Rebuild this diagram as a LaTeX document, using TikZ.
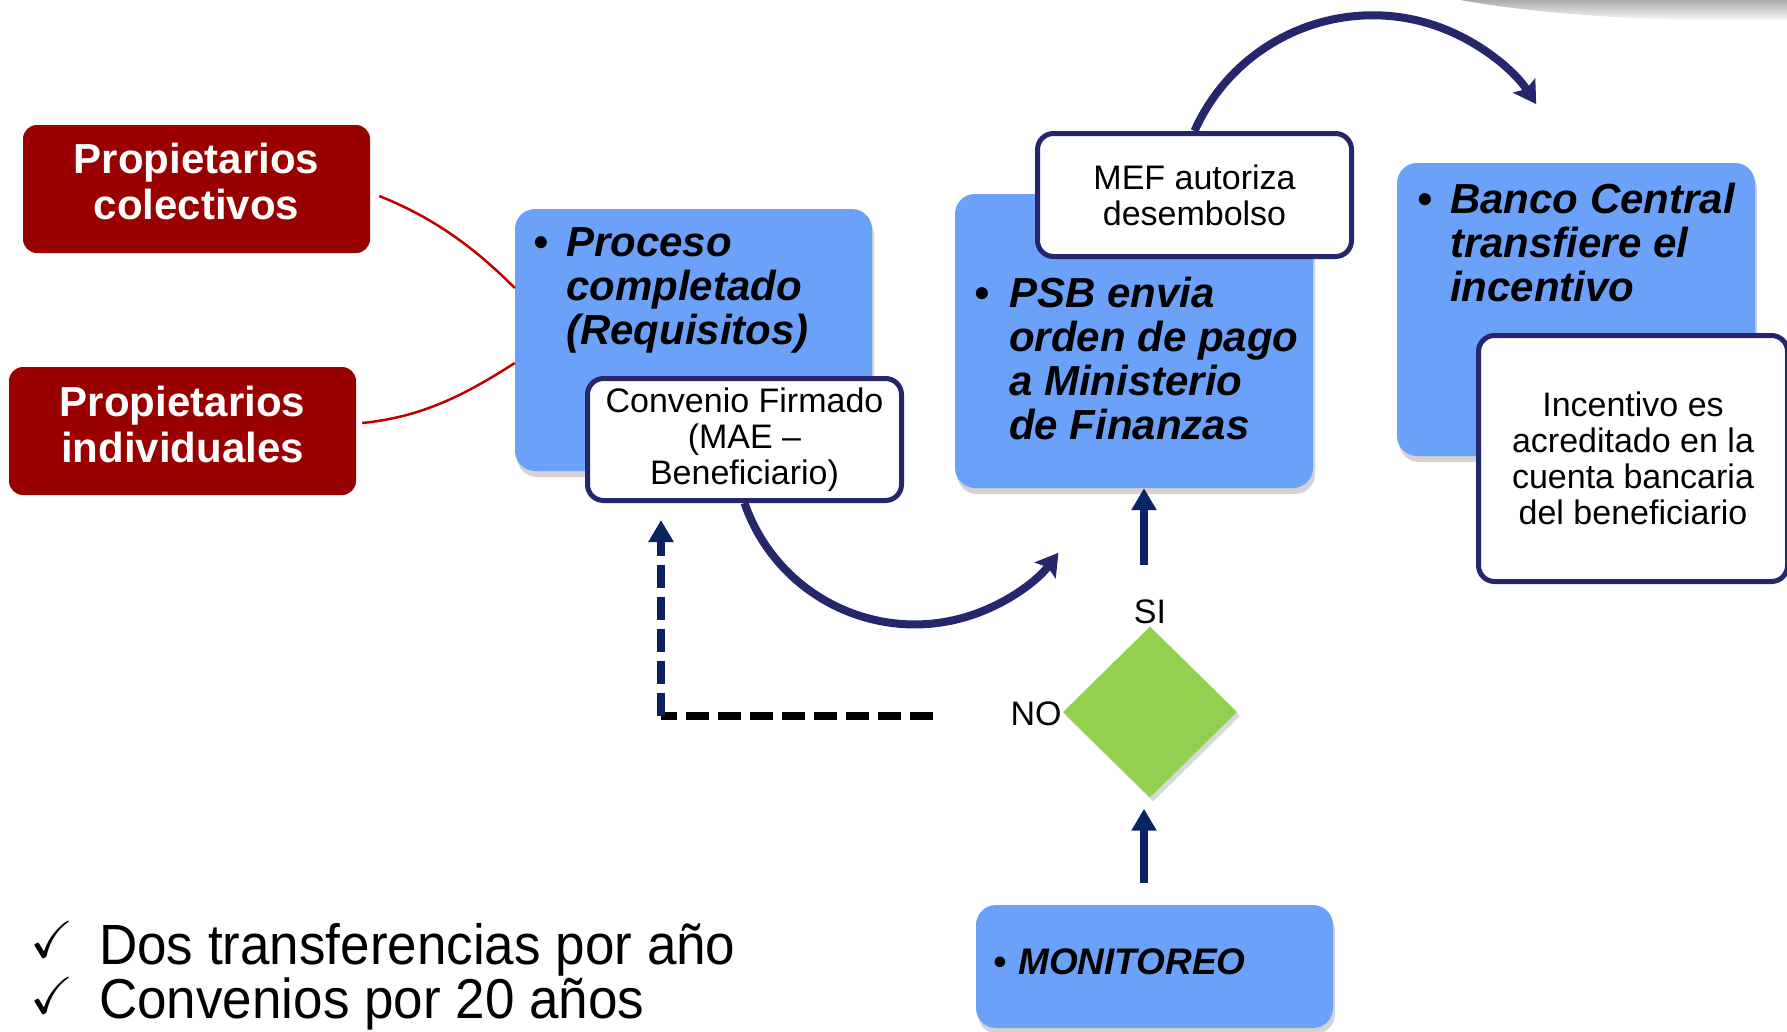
\documentclass[tikz,border=0pt]{standalone}
\usepackage{amssymb}
\usepackage{fontspec}
\setmainfont{Liberation Sans}
\usetikzlibrary{positioning, arrows.meta, shapes.geometric, shadows}

\definecolor{rojo}{HTML}{990000}
\definecolor{linearoja}{HTML}{C00000}
\definecolor{azulcaja}{HTML}{6CA1FA}
\definecolor{marino}{HTML}{26266C}
\definecolor{flecha}{HTML}{0B2362}
\definecolor{verde}{HTML}{92D050}

\newcommand{\vineta}[2]{\begin{tabular}[t]{@{}l@{}l@{}}\makebox[#1][l]{\textbullet} & #2\end{tabular}}

\tikzset{
  rojobox/.style={fill=rojo, rounded corners=14pt, minimum width=347pt, minimum height=128pt, inner sep=0pt},
  rojotxt/.style={text=white, font=\fontsize{42}{46}\selectfont\bfseries, align=center, inner sep=0pt},
  azulbox/.style={fill=azulcaja, rounded corners=20pt, inner sep=0pt,
    drop shadow={shadow xshift=2pt, shadow yshift=-6pt, opacity=.35}},
  azultxt/.style={font=\fontsize{42}{44}\selectfont\bfseries\itshape, inner sep=0pt, anchor=base west},
  blancobox/.style={fill=white, draw=marino, line width=5pt, rounded corners=16pt, inner sep=0pt,
    align=center, font=\fontsize{34}{36}\selectfont},
  arco/.style={draw=marino, line width=8pt, -{Stealth[length=22pt, width=26pt, inset=4pt]}},
  subir/.style={draw=flecha, line width=8pt, -{Triangle[length=22pt, width=24pt]}},
  rayas/.style={line width=8pt, dash pattern=on 23pt off 9pt},
  etiqueta/.style={font=\fontsize{34}{36}\selectfont, inner sep=0pt},
  nota/.style={anchor=base west, inner sep=0pt, font=\fontsize{53}{55}\selectfont},
  marca/.style={anchor=base west, inner sep=0pt, font=\fontsize{52}{52}\selectfont},
}

\begin{document}
\begin{tikzpicture}[x=1pt, y=-1pt]
    \useasboundingbox (0,0) rectangle (1787,1031);

    % sombra gris arriba a la derecha
    \shade[top color=gray!65, bottom color=white] (1460,0) .. controls (1560,18) and (1690,22) .. (1787,20) -- (1787,0) -- cycle;

    % propietarios
    \node[rojobox] (pc) at (196.5,189) {};
    \node[rojotxt] (pctxt) at (196.5,181) {Propietarios\\colectivos};
    \node[rojobox] (pi) at (182.5,431) {};
    \node[rojotxt] (pitxt) at (182.5,424) {Propietarios\\individuales};

    % cajas azules
    \node[azulbox, minimum width=357pt, minimum height=262pt] (proc) at (693.5,340) {};
    \node[azultxt] (proctxt) at (533,256) {\vineta{33pt}{Proceso\\ & completado\\ & (Requisitos)}};
    \node[azulbox, minimum width=358pt, minimum height=294pt] (psb) at (1134,341) {};
    \node[azultxt] (psbtxt) at (974,307) {\vineta{35pt}{PSB envia\\ & orden de pago\\ & a Ministerio\\ & de Finanzas}};
    \node[azulbox, minimum width=358pt, minimum height=293pt] (banco) at (1576,309.5) {};
    \node[azultxt] (bancotxt) at (1417,213) {\vineta{33pt}{Banco Central\\ & transfiere el\\ & incentivo}};
    \node[azulbox, minimum width=357pt, minimum height=123pt] (moni) at (1154.5,966.5) {};
    \node[azultxt, font=\fontsize{37}{40}\selectfont\bfseries\itshape] (monitxt) at (993,974) {\vineta{25pt}{MONITOREO}};

    % cajas blancas
    \node[blancobox, minimum width=314pt, minimum height=122pt] (conv) at (744.5,439.5) {Convenio Firmado\\(MAE --\\Beneficiario)};
    \node[blancobox, minimum width=314pt, minimum height=123pt] (mef) at (1194.5,195) {MEF autoriza\\desembolso};
    \node[blancobox, minimum width=309pt, minimum height=246pt] (incent) at (1633,458.5) {Incentivo es\\acreditado en la\\cuenta bancaria\\del beneficiario};

    % decision
    \node[diamond, aspect=1, fill=verde, inner sep=0pt, minimum width=174pt, minimum height=171pt,
      drop shadow={shadow xshift=3pt, shadow yshift=-4pt, opacity=.3}] (dec) at (1150,712) {};
    \node[etiqueta] (si) at (1150,612) {SI};
    \node[etiqueta] (no) at (1036,714) {NO};

    % lineas rojas
    \draw[linearoja, line width=2.5pt] ([xshift=9pt,yshift=-7pt]pc.east) .. controls +(50,20) and +(-45,-45) .. ([yshift=52pt]proc.west);
    \draw[linearoja, line width=2.5pt] ([xshift=6pt,yshift=8pt]pi.east) .. controls +(60,-6) and +(-50,32) .. ([yshift=-23pt]proc.west);

    % flechas curvas
    \draw[arco] (conv.south) arc[start angle=161, end angle=37, radius=180];
    \draw[arco] (mef.north) arc[start angle=-156, end angle=-33, radius=195];

    % flechas hacia arriba
    \coordinate (sibase) at (1144,565);
    \draw[subir] (sibase) -- (sibase |- psb.south);
    \coordinate (monibase) at (1144,883);
    \draw[subir] (monibase) -- ([yshift=-11pt]monibase |- dec.south);

    % camino del NO
    \coordinate (noini) at (933,716);
    \coordinate (esquina) at (661,716);
    \draw[rayas, black] (noini) -- (esquina);
    \draw[rayas, flecha, -{Triangle[length=22pt, width=24pt]}] (esquina) -- ([yshift=-17pt]esquina |- conv.south);

    % notas
    \node[marca] (ck1) at (30,957) {$\checkmark$};
    \node[nota] (t1) at (99,964) {\scalebox{1}[1.07]{Dos transferencias por año}};
    \node[marca] (ck2) at (30,1013) {$\checkmark$};
    \node[nota] (t2) at (99,1018) {\scalebox{1}[1.06]{Convenios por 20 años}};

\end{tikzpicture}
\end{document}
